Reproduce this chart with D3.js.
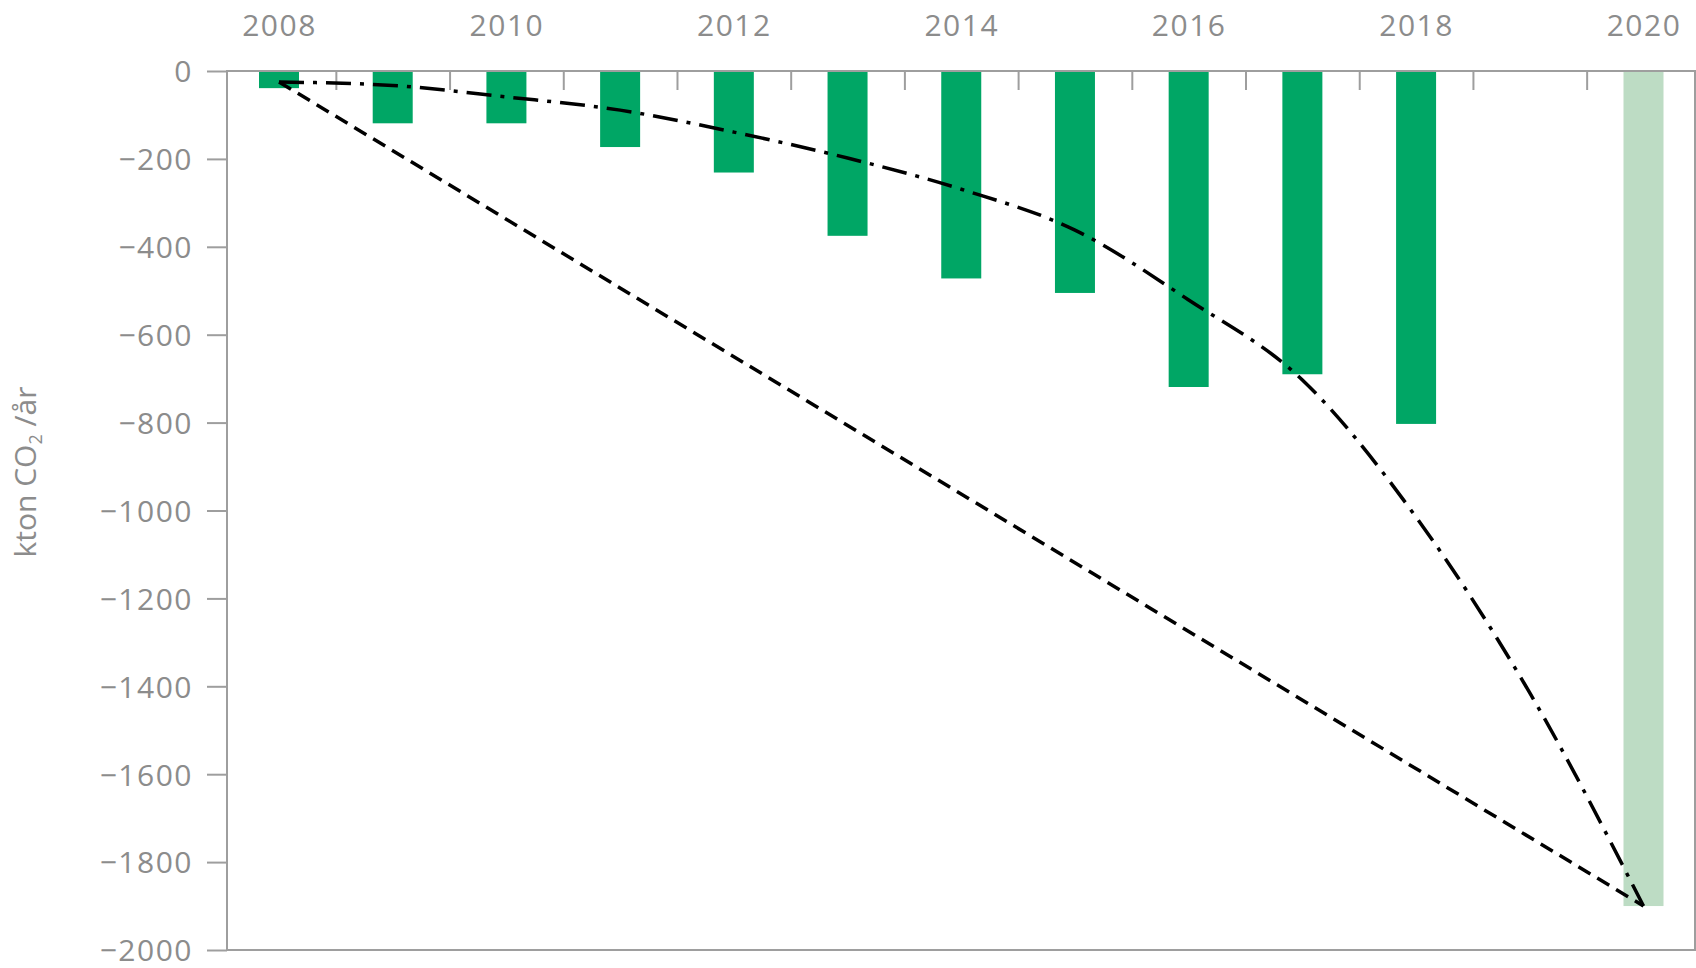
<!DOCTYPE html>
<html>
<head>
<meta charset="utf-8">
<script src="https://cdn.jsdelivr.net/npm/d3@7"></script>
<style>
  html, body { margin: 0; padding: 0; background: #fff; }
  svg { display: block; }
  text { font-family: "Open Sans", "DejaVu Sans", sans-serif; fill: #8c8c8c; }
</style>
</head>
<body>
<svg id="chart" width="1696" height="968"></svg>
<script>
// ---- data ----
const barYears = [2008, 2009, 2010, 2011, 2012, 2013, 2014, 2015, 2016, 2017, 2018];
const barValues = [-39, -119, -119, -173, -231, -375, -472, -505, -719, -690, -803];
const targetYears = [2020];
const targetValues = [-1900];
const curveYears = [2008, 2009, 2010, 2011, 2012, 2013, 2014, 2015, 2016, 2017, 2018, 2019, 2020];
const curveValues = [-25, -33, -59, -89, -139, -198, -269, -362, -521, -703, -1015, -1415, -1900];
const linearYears = [2008, 2020];
const linearValues = [-25, -1900];
const yTickValues = [0, -200, -400, -600, -800, -1000, -1200, -1400, -1600, -1800, -2000];
const xLabelYears = [2008, 2010, 2012, 2014, 2016, 2018, 2020];
const xTickYears = [2008.5, 2009.5, 2010.5, 2011.5, 2012.5, 2013.5, 2014.5, 2015.5, 2016.5, 2017.5, 2018.5, 2019.5];
const yTitle = "kton CO";

// ---- layout ----
const frameLeft = 227, frameRight = 1695, frameTop = 71, frameBottom = 950;
const gray = "#9e9e9e";
const svg = d3.select("#chart");

const x = d3.scaleLinear().domain([2008, 2020]).range([279, 1643.5]);
const y = d3.scaleLinear().domain([0, -2000]).range([frameTop, frameBottom]);
const barW = 40;

// bars
svg.append("g").selectAll("rect").data(barYears.map((d, i) => ({ yr: d, v: barValues[i] })))
  .join("rect")
  .attr("x", d => x(d.yr) - barW / 2)
  .attr("y", y(0))
  .attr("width", barW)
  .attr("height", d => y(d.v) - y(0))
  .attr("fill", "#00a665");

svg.append("g").selectAll("rect").data(targetYears.map((d, i) => ({ yr: d, v: targetValues[i] })))
  .join("rect")
  .attr("x", d => x(d.yr) - barW / 2)
  .attr("y", y(0))
  .attr("width", barW)
  .attr("height", d => y(d.v) - y(0))
  .attr("fill", "#bddcc4");

// frame
svg.append("rect")
  .attr("x", frameLeft).attr("y", frameTop)
  .attr("width", frameRight - frameLeft).attr("height", frameBottom - frameTop)
  .attr("fill", "none").attr("stroke", gray).attr("stroke-width", 2);

// y axis
const yAxis = d3.axisLeft(y).tickValues(yTickValues).tickSize(20).tickPadding(14)
  .tickFormat(d => d === 0 ? "0" : "\u2212" + Math.abs(d));
const gy = svg.append("g").attr("transform", `translate(${frameLeft},0)`).call(yAxis);
gy.select(".domain").remove();
gy.selectAll(".tick line").attr("stroke", gray).attr("stroke-width", 2);
gy.selectAll(".tick text").attr("font-size", 30).attr("dy", "0.36em").attr("fill", "#8c8c8c")
  .attr("letter-spacing", 1.5)
  .style("font-family", "'Open Sans', sans-serif");

// x ticks (inside, at year boundaries)
const xTickAxis = d3.axisTop(x).tickValues(xTickYears).tickSizeInner(-19).tickSizeOuter(0).tickFormat("");
const gxt = svg.append("g").attr("transform", `translate(0,${frameTop})`).call(xTickAxis);
gxt.select(".domain").remove();
gxt.selectAll(".tick line").attr("stroke", gray).attr("stroke-width", 2);

// x labels
const xLabelAxis = d3.axisTop(x).tickValues(xLabelYears).tickSize(0).tickPadding(35).tickFormat(d3.format("d"));
const gxl = svg.append("g").attr("transform", `translate(0,${frameTop})`).call(xLabelAxis);
gxl.select(".domain").remove();
gxl.selectAll(".tick text").attr("font-size", 30).attr("fill", "#8c8c8c").attr("letter-spacing", 1.5)
  .style("font-family", "'Open Sans', sans-serif");

// lines
const lineGen = d3.line().x(d => x(d[0])).y(d => y(d[1]));
svg.append("path")
  .datum(linearYears.map((d, i) => [d, linearValues[i]]))
  .attr("d", lineGen)
  .attr("fill", "none").attr("stroke", "#000").attr("stroke-width", 3.5)
  .attr("stroke-dasharray", "14,8");

svg.append("path")
  .datum(curveYears.map((d, i) => [d, curveValues[i]]))
  .attr("d", lineGen.curve(d3.curveMonotoneX))
  .attr("fill", "none").attr("stroke", "#000").attr("stroke-width", 3.5)
  .attr("stroke-dasharray", "25,9,4,9");

// y title
const t = svg.append("text")
  .attr("transform", "translate(36,472) rotate(-90)")
  .attr("text-anchor", "middle")
  .attr("font-size", 30)
  .attr("fill", "#8c8c8c");
t.append("tspan").text(yTitle);
t.append("tspan").attr("font-size", 18).attr("dy", 6).text("2");
t.append("tspan").attr("dy", -6).text(" /år");
</script>
</body>
</html>
